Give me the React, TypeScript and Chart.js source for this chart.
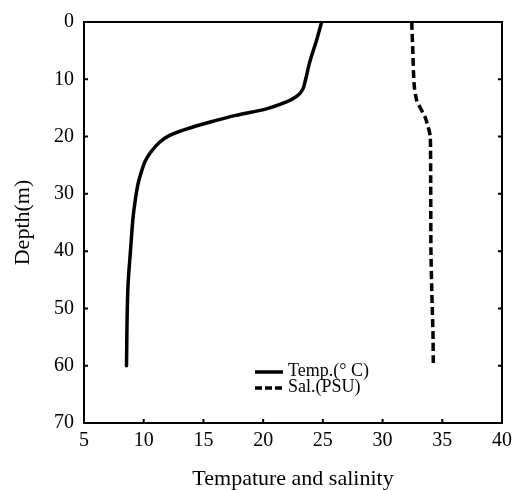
import React, { useEffect, useRef } from "react";
import { Chart, registerables } from "chart.js";

Chart.register(...registerables);

const tempDepth = [0, 3, 7, 10, 11.7, 12.9, 14, 15.2, 16.3, 17.5, 18.7, 19.8, 21, 22.7, 24.4, 26.2, 28.5, 31, 34.3, 40, 45.8, 51.6, 60];
const tempValues = [24.9, 24.5, 23.9, 23.56, 23.33, 22.86, 21.9, 20.2, 17.7, 15.5, 13.56, 12.17, 11.33, 10.6, 10.1, 9.8, 9.5, 9.3, 9.1, 8.89, 8.69, 8.61, 8.56];

const salDepth = [0, 5, 10.9, 13.7, 16.6, 18.9, 20.1, 28, 40, 48.4, 54.2, 60];
const salValues = [32.44, 32.53, 32.64, 32.86, 33.56, 33.89, 34.0, 34.03, 34.05, 34.14, 34.22, 34.25];

const xTicks = [5, 10, 15, 20, 25, 30, 35, 40];
const yTicks = [0, 10, 20, 30, 40, 50, 60, 70];

const seriesLabels = ["Temp.(° C)", "Sal.(PSU)"];
const xTitle = "Tempature and salinity";
const yTitle = "Depth(m)";

const FONT = "'Liberation Serif', 'Times New Roman', serif";

const framePlugin = {
  id: "frameAndTicks",
  afterDraw(chart: any) {
    const { ctx, chartArea, scales } = chart;
    const { left, right, top, bottom } = chartArea;
    ctx.save();
    ctx.strokeStyle = "#000";
    ctx.lineWidth = 2;
    ctx.strokeRect(left, top, right - left, bottom - top);
    const tl = 4;
    ctx.lineWidth = 2;
    ctx.beginPath();
    xTicks.slice(1, -1).forEach((v) => {
      const px = scales.x.getPixelForValue(v);
      ctx.moveTo(px, bottom);
      ctx.lineTo(px, bottom - tl);
    });
    yTicks.slice(1, -1).forEach((v) => {
      const py = scales.y.getPixelForValue(v);
      ctx.moveTo(left, py);
      ctx.lineTo(left + tl, py);
      ctx.moveTo(right, py);
      ctx.lineTo(right - tl, py);
    });
    ctx.stroke();

    // legend
    const lx0 = left + 171;
    const lx1 = left + 199;
    const rows = [
      { y: top + 350, dash: [] as number[] },
      { y: top + 366, dash: [7, 3] },
    ];
    ctx.font = `18px ${FONT}`;
    ctx.fillStyle = "#000";
    ctx.textBaseline = "middle";
    ctx.textAlign = "left";
    rows.forEach((r, i) => {
      ctx.beginPath();
      ctx.setLineDash(r.dash);
      ctx.lineWidth = 3.5;
      ctx.moveTo(lx0, r.y);
      ctx.lineTo(lx1, r.y);
      ctx.stroke();
      ctx.setLineDash([]);
      ctx.fillText(seriesLabels[i], lx1 + 5, r.y - 1);
    });
    ctx.restore();
  },
};

export default function App() {
  const canvasRef = useRef<HTMLCanvasElement | null>(null);

  useEffect(() => {
    if (!canvasRef.current) return;
    const chart = new Chart(canvasRef.current, {
      type: "scatter",
      data: {
        datasets: [
          {
            label: seriesLabels[0],
            data: tempDepth.map((d, i) => ({ x: tempValues[i], y: d })),
            showLine: true,
            borderColor: "#000",
            borderWidth: 3.5,
            borderCapStyle: "round",
            tension: 0.3,
            pointRadius: 0,
          },
          {
            label: seriesLabels[1],
            data: salDepth.map((d, i) => ({ x: salValues[i], y: d })),
            showLine: true,
            borderColor: "#000",
            borderWidth: 3.5,
            borderDash: [8, 4],
            tension: 0.2,
            pointRadius: 0,
          },
        ],
      },
      options: {
        animation: false,
        responsive: false,
        layout: { padding: { left: 0, right: 14, top: 19, bottom: 0 } },
        plugins: {
          legend: { display: false },
          tooltip: { enabled: false },
        },
        scales: {
          x: {
            type: "linear",
            min: 5,
            max: 40,
            grid: { display: false, drawTicks: false },
            border: { display: false },
            afterBuildTicks: (s: any) => {
              s.ticks = xTicks.map((v) => ({ value: v }));
            },
            afterFit: (s: any) => {
              s.height = 67;
            },
            ticks: {
              color: "#000",
              padding: 6,
              font: { family: FONT, size: 20 },
            },
            title: {
              display: true,
              text: xTitle,
              color: "#000",
              font: { family: FONT, size: 22, lineHeight: 1 },
              padding: { top: 0, bottom: 0 },
            },
          },
          y: {
            type: "linear",
            min: 0,
            max: 70,
            reverse: true,
            grid: { display: false, drawTicks: false },
            border: { display: false },
            afterBuildTicks: (s: any) => {
              s.ticks = yTicks.map((v) => ({ value: v }));
            },
            afterFit: (s: any) => {
              s.width = 84;
            },
            ticks: {
              color: "#000",
              padding: 10,
              font: { family: FONT, size: 20 },
            },
            title: {
              display: true,
              text: yTitle,
              color: "#000",
              font: { family: FONT, size: 22, lineHeight: 1 },
              padding: { top: 12, bottom: 0 },
            },
          },
        },
      },
      plugins: [framePlugin],
    });
    return () => chart.destroy();
  }, []);

  return (
    <div style={{ position: "absolute", left: 0, top: 0, width: 518, height: 490, background: "#fff" }}>
      <canvas ref={canvasRef} width={518} height={490} style={{ display: "block" }} />
    </div>
  );
}
